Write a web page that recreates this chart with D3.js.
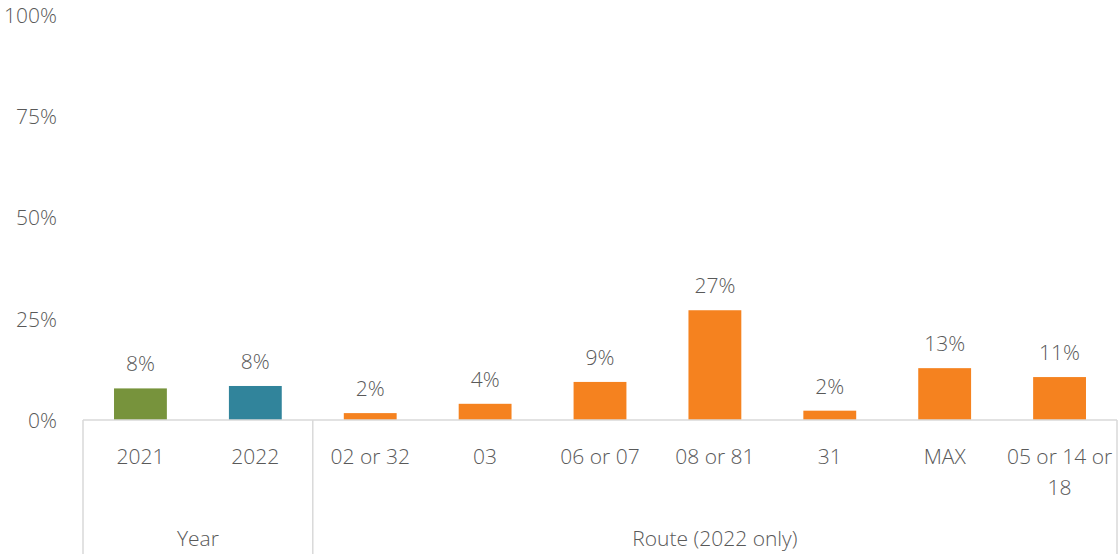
<!DOCTYPE html>
<html>
<head>
<meta charset="utf-8">
<script src="https://cdn.jsdelivr.net/npm/d3@7"></script>
<style>
  html, body { margin: 0; padding: 0; background: #fff; }
  svg { display: block; font-family: "Open Sans", "Noto Sans", sans-serif; }
  text { fill: #595959; font-weight: 360; }
</style>
</head>
<body>
<svg id="chart" width="1118" height="554"></svg>
<script>
// Share of respondents, by year and by route
const categories = ["2021", "2022", "02 or 32", "03", "06 or 07", "08 or 81", "31", "MAX", "05 or 14 or 18"];
const shares = [0.078, 0.084, 0.017, 0.040, 0.094, 0.271, 0.023, 0.128, 0.106];
const groupNames = ["Year", "Route (2022 only)"];
const groupSizes = [2, 7];
const yTicks = [0, 0.25, 0.5, 0.75, 1];

(function draw() {
  const svg = d3.select("#chart");
  const plotLeft = 83, plotRight = 1117, plotBase = 420, plotTop = 15, plotBottom = 554;
  const fontSize = 21;

  const x = d3.scaleBand()
    .domain(categories)
    .range([plotLeft, plotRight])
    .paddingInner(0.54)
    .paddingOuter(0.27);

  const y = d3.scaleLinear().domain([0, 1]).range([plotBase, plotTop]);
  const pct = d3.format(".0%");

  const colour = c => c === "2021" ? "#77933c" : c === "2022" ? "#31849b" : "#f5821f";

  // Y axis labels only (no gridlines, no axis line)
  const yAxis = d3.axisLeft(y).tickValues(yTicks).tickFormat(pct).tickSize(0).tickPadding(0);
  svg.append("g")
    .attr("transform", "translate(57,0)")
    .call(yAxis)
    .call(g => g.select(".domain").remove())
    .call(g => g.selectAll("text")
      .attr("font-size", fontSize)
      .attr("font-family", "'Open Sans', sans-serif")
      .attr("fill", "#595959")
      .attr("dy", "0.35em"));

  // Bars
  svg.append("g").selectAll("rect")
    .data(categories)
    .join("rect")
    .attr("x", d => x(d))
    .attr("width", x.bandwidth())
    .attr("y", (d, i) => y(shares[i]))
    .attr("height", (d, i) => plotBase - y(shares[i]))
    .attr("fill", d => colour(d));

  // Value labels
  svg.append("g").selectAll("text")
    .data(categories)
    .join("text")
    .attr("x", d => x(d) + x.bandwidth() / 2)
    .attr("y", (d, i) => y(shares[i]) - 17)
    .attr("text-anchor", "middle")
    .attr("font-size", fontSize)
    .text((d, i) => pct(shares[i]));

  // Baseline
  const lineCol = "#d9d9d9";
  svg.append("line")
    .attr("x1", plotLeft).attr("x2", plotRight)
    .attr("y1", plotBase).attr("y2", plotBase)
    .attr("stroke", lineCol).attr("stroke-width", 1.5);

  // Category labels, wrapped to the band width
  const step = x.step();
  const catG = svg.append("g");
  categories.forEach(c => {
    const cx = x(c) + x.bandwidth() / 2;
    const t = catG.append("text")
      .attr("x", cx)
      .attr("y", 464)
      .attr("text-anchor", "middle")
      .attr("font-size", fontSize);
    const words = c.split(" ");
    let line = [];
    let tspan = t.append("tspan").attr("x", cx).attr("dy", 0);
    words.forEach(w => {
      line.push(w);
      tspan.text(line.join(" "));
      if (tspan.node().getComputedTextLength() > step && line.length > 1) {
        line.pop();
        tspan.text(line.join(" "));
        line = [w];
        tspan = t.append("tspan")
          .attr("x", cx)
          .attr("dy", 31)
          .text(w);
      }
    });
  });

  // Group separators and group labels
  let idx = 0;
  const edges = [plotLeft];
  const grpG = svg.append("g");
  groupNames.forEach((g, gi) => {
    const first = categories[idx];
    const last = categories[idx + groupSizes[gi] - 1];
    const x0 = gi === 0 ? plotLeft : x(first) - step * x.paddingInner() / 2;
    const x1 = gi === groupNames.length - 1 ? plotRight : x(last) + x.bandwidth() + step * x.paddingInner() / 2;
    edges.push(x1);
    grpG.append("text")
      .attr("x", (x0 + x1) / 2)
      .attr("y", 546)
      .attr("text-anchor", "middle")
      .attr("font-size", fontSize)
      .text(g);
    idx += groupSizes[gi];
  });

  svg.append("g").selectAll("line")
    .data(edges)
    .join("line")
    .attr("x1", d => d).attr("x2", d => d)
    .attr("y1", plotBase).attr("y2", plotBottom)
    .attr("stroke", lineCol).attr("stroke-width", 1.5);
})();
</script>
</body>
</html>
